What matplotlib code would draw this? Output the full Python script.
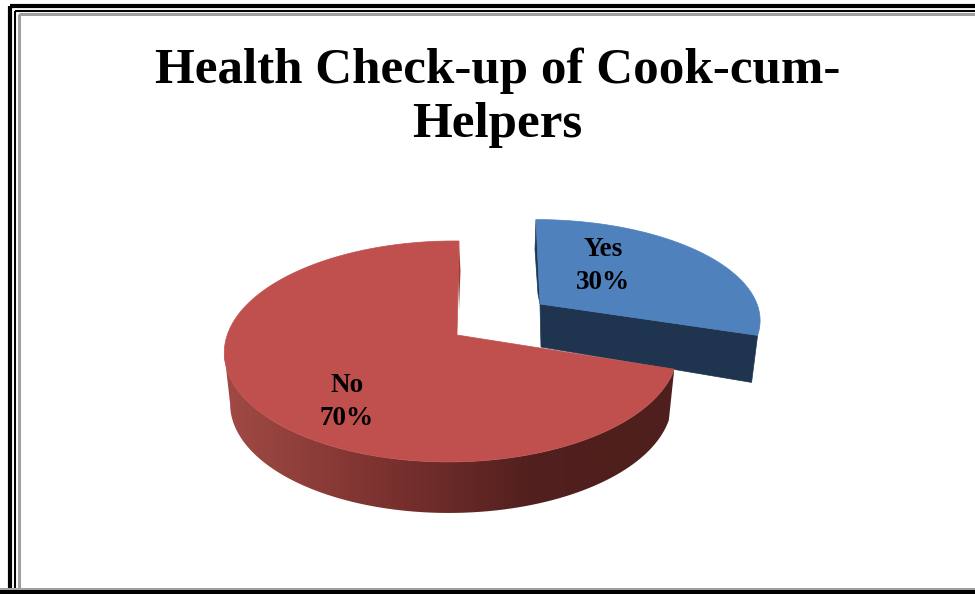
#coding: utf-8
import numpy as np
import matplotlib
matplotlib.use("Agg")
import matplotlib.pyplot as plt
from matplotlib.colors import LinearSegmentedColormap
from matplotlib.patches import Polygon, Rectangle

# data
title_lines = ["Health Check-up of Cook-cum-", "Helpers"]
categories = ["Yes", "No"]
values = [30, 70]
colors_top = ["#4F81BD", "#C0504D"]
color_yes_side = "#1F344F"

# pie is seen in perspective, one geometry per slice (the Yes slice is pulled out)
geo_yes = dict(cx=540, cy=304, rx=217, ry=97, p=0.149, q=0.0, shear=-4)
geo_no = dict(cx=457, cy=335, rx=224, ry=108, p=0.149, q=0.025, shear=2)


def project(angle, geo, r=1.0):
    # angle in degrees, clockwise from the top of the disc
    u = r * np.sin(np.radians(angle))
    v = r * np.cos(np.radians(angle))
    w = 1 + geo["p"] * v + geo["q"] * u
    x = geo["cx"] + geo["rx"] * u / w + geo["shear"] * v
    y = geo["cy"] - geo["ry"] * v / w
    return np.column_stack([x, y])


def slice_top(start, end, geo):
    t = np.linspace(start, end, 200)
    apex = [[geo["cx"], geo["cy"]]]
    return np.vstack([apex, project(t, geo)])


def wall_bottom(points, geo, depth, squeeze):
    x = geo["cx"] + (points[:, 0] - geo["cx"]) * squeeze
    return np.column_stack([x, points[:, 1] + depth])


fig = plt.figure(figsize=(9.75, 5.94), dpi=100)
ax = fig.add_axes([0, 0, 1, 1])
ax.axis("off")

# frame
ax.add_patch(Rectangle((10, 6), 1000, 1000, fc="none", ec="black", lw=3.0))
ax.add_patch(Rectangle((15, 11), 1000, 580, fc="none", ec="black", lw=1.5))
ax.add_patch(Rectangle((18.5, 13.5), 1000, 575.5, fc="none", ec="#A0A0A0", lw=2.2))
ax.add_patch(Rectangle((0, 590), 975, 4, fc="black", ec="none"))
ax.add_patch(Rectangle((0, 588), 975, 2, fc="#A0A0A0", ec="none"))

# slice angles come from the values
yes_end = 360 * values[0] / sum(values)

# Yes slice: cut face, small inner strip, then the top
yes_top = slice_top(0, yes_end, geo_yes)
corner_top = yes_top[-1]
apex = yes_top[0]
ax.add_patch(Polygon([apex, corner_top, corner_top + [-6, 47], apex + [1, 43]],
                     fc=color_yes_side, ec=color_yes_side, lw=0.5))
ax.add_patch(Polygon([yes_top[1], apex, apex + [-2, -10], yes_top[1] + [-1, 30]],
                     fc=color_yes_side, ec=color_yes_side, lw=0.5))
ax.add_patch(Polygon(yes_top, fc=colors_top[0], ec=colors_top[0], lw=0.5))

# No slice: outer wall, a horizontal gradient clipped to the wall outline
no_top = slice_top(yes_end, 360, geo_no)
wall_t = np.linspace(yes_end, 261, 160)
upper = project(wall_t, geo_no)
lower = wall_bottom(upper, geo_no, 51, 0.975)
cmap = LinearSegmentedColormap.from_list(
    "wall", [(0, "#A24A44"), (0.4, "#762F2D"), (0.68, "#52201E"), (1, "#4E1F1C")])
wall_x0, wall_x1 = upper[:, 0].min(), upper[:, 0].max()
wall_outline = Polygon(np.vstack([upper, lower[::-1]]), transform=ax.transData, fc="none", ec="none")
ax.add_patch(wall_outline)
grad = ax.imshow(np.linspace(0, 1, 256).reshape(1, -1), cmap=cmap, aspect="auto",
                 extent=(wall_x0, wall_x1, 530, 340))
grad.set_clip_path(wall_outline)

# thin strip of the cut edge beside the top of the red slice
top_corner = no_top[-1]
ax.add_patch(Polygon([top_corner, top_corner + [1.5, 30], top_corner + [0, 70], top_corner + [-1, 30]],
                     fc="#9C3F3C", ec="none"))
ax.add_patch(Polygon(no_top, fc=colors_top[1], ec=colors_top[1], lw=0.5))

# texts
font = ["Liberation Serif", "DejaVu Serif"]
ax.text(497.5, 83, title_lines[0], ha="center", va="baseline", family=font,
        fontsize=36.7, fontweight="bold", color="black")
ax.text(497.5, 137, title_lines[1], ha="center", va="baseline", family=font,
        fontsize=36.7, fontweight="bold", color="black")
ax.text(603, 266, f"{categories[0]}\n{values[0]}%", ha="center", va="center", family=font,
        fontsize=19.5, fontweight="bold", linespacing=1.4)
ax.text(347, 402, f"{categories[1]}\n{values[1]}%", ha="center", va="center", family=font,
        fontsize=19.5, fontweight="bold", linespacing=1.4)

ax.set_xlim(0, 975)
ax.set_ylim(594, 0)
fig.savefig("out.png", dpi=100, facecolor="white")
